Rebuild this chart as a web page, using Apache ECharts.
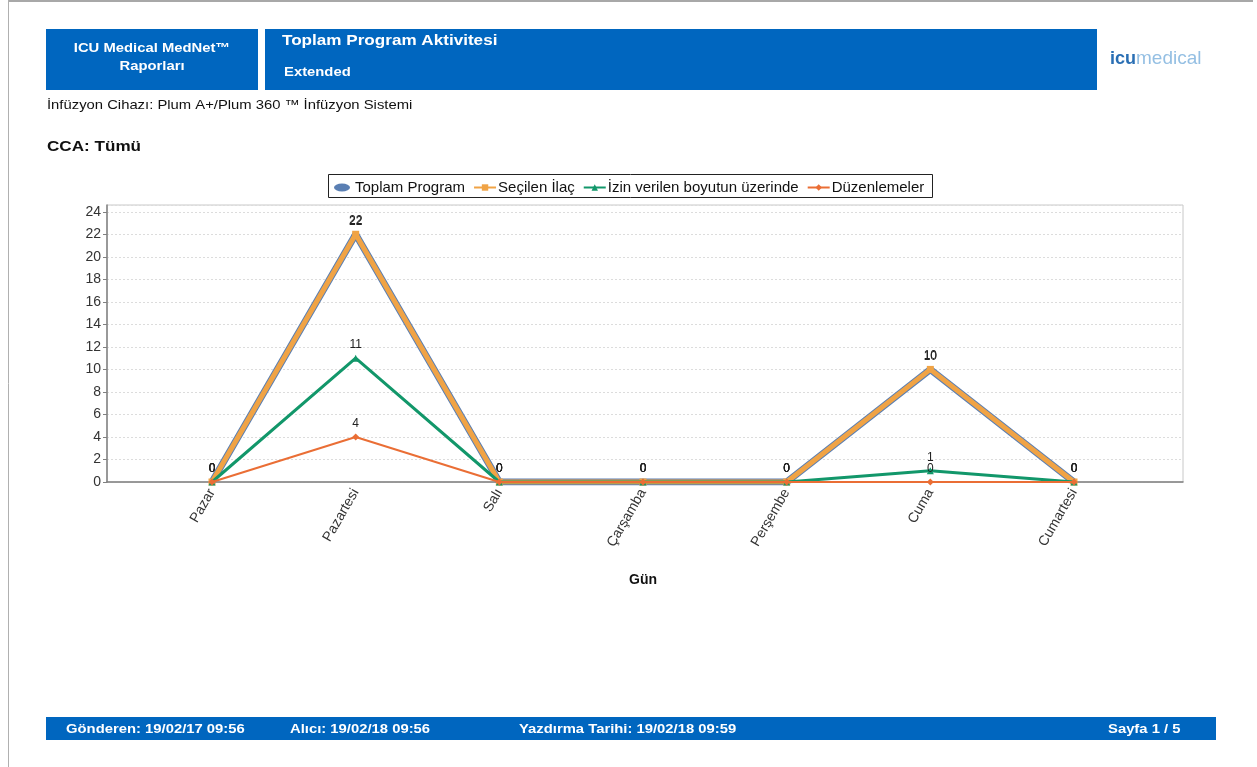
<!DOCTYPE html>
<html>
<head>
<meta charset="utf-8">
<script src="https://cdn.jsdelivr.net/npm/echarts@6/dist/echarts.min.js"></script>
<style>
  html, body { margin: 0; padding: 0; background: #fff; }
  #chart { width: 1257px; height: 767px; }
</style>
</head>
<body>
<div id="chart"></div>
<script>
// Days of the week (x axis categories)
const days = ['Pazar', 'Pazartesi', 'Salı', 'Çarşamba', 'Perşembe', 'Cuma', 'Cumartesi'];

// Series values per day
const toplamProgram = [0, 22, 0, 0, 0, 10, 0];
const secilenIlac = [0, 22, 0, 0, 0, 10, 0];
const izinVerilenUzeri = [0, 11, 0, 0, 0, 1, 0];
const duzenlemeler = [0, 4, 0, 0, 0, 0, 0];

// Series names
const seriesNames = ['Toplam Program', 'Seçilen İlaç', 'İzin verilen boyutun üzerinde', 'Düzenlemeler'];

const FONT = '"Liberation Sans", Arial, sans-serif';
const BLUE = '#0066bf';
const SX = 1.14; // report text is set slightly wide

const chart = echarts.init(document.getElementById('chart'));

const labelStyle = { show: true, position: 'top', distance: 4, fontFamily: FONT, fontSize: 12, color: '#222' };

function txt(x, y, text, font, extra) {
  return Object.assign({ type: 'text', x: x, y: y, scaleX: SX,
    style: Object.assign({ text: text, fill: '#fff', font: font, verticalAlign: 'middle' }, extra || {}) });
}

chart.setOption({
  animation: false,
  textStyle: { fontFamily: FONT },
  graphic: [
    // page border lines
    { type: 'line', shape: { x1: 8, y1: 1, x2: 1253, y2: 1 }, style: { stroke: '#a8a8a8', lineWidth: 2 } },
    { type: 'line', shape: { x1: 8.5, y1: 0, x2: 8.5, y2: 767 }, style: { stroke: '#b0b0b0', lineWidth: 1 } },
    // header boxes
    { type: 'rect', shape: { x: 46, y: 29, width: 212, height: 61 }, style: { fill: BLUE } },
    { type: 'rect', shape: { x: 265, y: 29, width: 832, height: 61 }, style: { fill: BLUE } },
    txt(152, 48, 'ICU Medical MedNet™', 'bold 13px ' + FONT, { align: 'center' }),
    txt(152, 66, 'Raporları', 'bold 13px ' + FONT, { align: 'center' }),
    txt(282, 41, 'Toplam Program Aktivitesi', 'bold 15px ' + FONT),
    txt(284, 72, 'Extended', 'bold 13px ' + FONT),
    // logo
    { type: 'text', x: 1110, y: 59, style: {
        text: '{a|icu}{b|medical}', verticalAlign: 'middle',
        rich: {
          a: { font: 'bold 18px ' + FONT, fill: '#2a6fb4' },
          b: { font: '19px ' + FONT, fill: '#94bfe3' }
        }
      } },
    // subtitles
    txt(47, 105, 'İnfüzyon Cihazı: Plum A+/Plum 360 ™ İnfüzyon Sistemi', '13px ' + FONT, { fill: '#111' }),
    txt(47, 147, 'CCA: Tümü', 'bold 15px ' + FONT, { fill: '#111' }),
    // legend frame
    { type: 'rect', shape: { x: 328.5, y: 174.5, width: 604, height: 23 }, style: { fill: 'none', stroke: '#222', lineWidth: 1 } },
    // footer bar
    { type: 'rect', shape: { x: 46, y: 717, width: 1170, height: 23 }, style: { fill: BLUE } },
    txt(66, 729, 'Gönderen: 19/02/17 09:56', 'bold 13px ' + FONT),
    txt(290, 729, 'Alıcı: 19/02/18 09:56', 'bold 13px ' + FONT),
    txt(519, 729, 'Yazdırma Tarihi: 19/02/18 09:59', 'bold 13px ' + FONT),
    txt(1108, 729, 'Sayfa 1 / 5', 'bold 13px ' + FONT)
  ],
  legend: {
    left: 329, top: 175,
    itemGap: 8,
    itemWidth: 22, itemHeight: 8,
    textStyle: { fontFamily: FONT, fontSize: 15, color: '#111', padding: [0, 0, 0, -3] },
    data: [
      { name: seriesNames[0], icon: 'path://M0,5a10,5 0 1,0 20,0a10,5 0 1,0 -20,0z' },
      { name: seriesNames[1] },
      { name: seriesNames[2] },
      { name: seriesNames[3] }
    ]
  },
  grid: [
    // plot frame with value grid lines
    { left: 107, top: 205, width: 1076, height: 277, show: true, borderColor: '#c8c8c8', borderWidth: 1 },
    // inner grid holding the day categories
    { left: 212, top: 205, width: 862, height: 277 }
  ],
  xAxis: [
    { gridIndex: 0, type: 'value', min: 0, max: 1, axisLine: { show: true, lineStyle: { color: '#808080', width: 1.5 } },
      axisTick: { show: false }, axisLabel: { show: false }, splitLine: { show: false } },
    { gridIndex: 1, type: 'category', data: days, boundaryGap: false,
      axisLine: { show: false }, axisTick: { show: false },
      axisLabel: { rotate: 60, margin: 8, fontFamily: FONT, fontSize: 14, color: '#333' },
      name: 'Gün', nameLocation: 'middle', nameGap: 91,
      nameTextStyle: { fontFamily: FONT, fontSize: 14, fontWeight: 'bold', color: '#111' } }
  ],
  yAxis: [
    { gridIndex: 0, type: 'value', min: 0, max: 24.6, interval: 2,
      axisLine: { show: true, lineStyle: { color: '#808080', width: 1.5 } },
      axisTick: { show: true, length: 4, lineStyle: { color: '#808080' } },
      axisLabel: { showMaxLabel: false, margin: 6, fontFamily: FONT, fontSize: 14, color: '#333' },
      splitLine: { show: true, lineStyle: { color: '#dcdcdc', type: [2, 2] } } },
    { gridIndex: 1, type: 'value', min: 0, max: 24.6, show: false }
  ],
  series: [
    { name: seriesNames[0], type: 'line', xAxisIndex: 1, yAxisIndex: 1, data: toplamProgram,
      color: '#5a7fb3', lineStyle: { width: 7, color: '#5a7fb3' }, symbol: 'circle', symbolSize: 6,
      label: labelStyle, z: 2 },
    { name: seriesNames[1], type: 'line', xAxisIndex: 1, yAxisIndex: 1, data: secilenIlac,
      color: '#f0a345', lineStyle: { width: 5, color: '#f0a345' }, symbol: 'rect', symbolSize: 7,
      label: labelStyle, z: 3 },
    { name: seriesNames[2], type: 'line', xAxisIndex: 1, yAxisIndex: 1, data: izinVerilenUzeri,
      color: '#12976a', lineStyle: { width: 3, color: '#12976a' }, symbol: 'triangle', symbolSize: 7,
      label: labelStyle, z: 4 },
    { name: seriesNames[3], type: 'line', xAxisIndex: 1, yAxisIndex: 1, data: duzenlemeler,
      color: '#ea6e35', lineStyle: { width: 2, color: '#ea6e35' }, symbol: 'diamond', symbolSize: 7,
      label: labelStyle, z: 5 }
  ]
});
</script>
</body>
</html>
